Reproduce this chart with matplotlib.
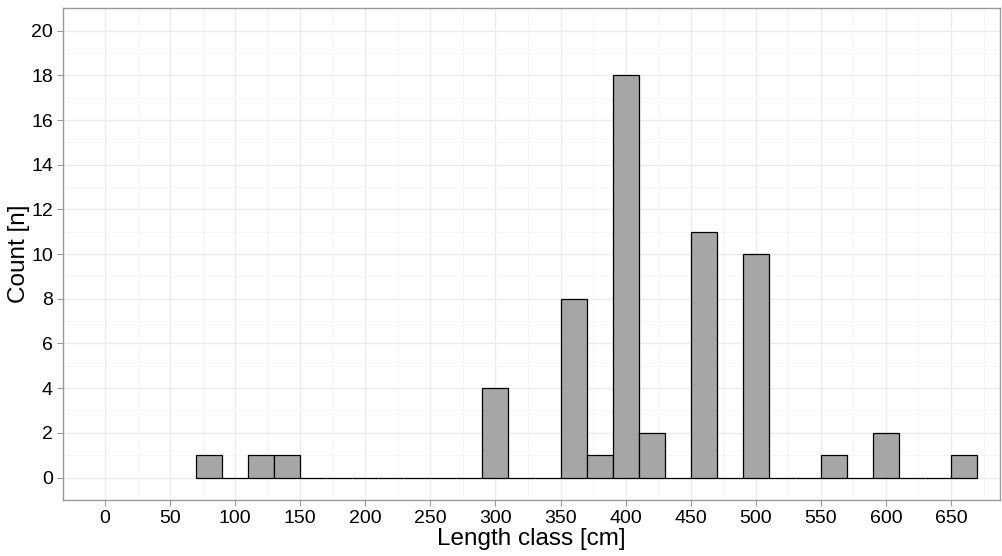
import numpy as np
import matplotlib.pyplot as plt

plt.rcParams['font.family'] = ['Liberation Sans', 'DejaVu Sans']

# histogram bins (width 20 cm), centres and counts
bin_centres = np.arange(80, 661, 20)
counts = [1, 0, 1, 1, 0, 0, 0, 0, 0, 0, 0, 4, 0, 0, 8, 1, 18, 2,
          0, 11, 0, 10, 0, 0, 1, 0, 2, 0, 0, 1]
x_ticks = np.arange(0, 651, 50)
y_ticks = np.arange(0, 21, 2)

fig = plt.figure(figsize=(10.03, 5.56), dpi=100)
ax = fig.add_axes([0.0625, 0.101, 0.935, 0.884])

ax.bar(bin_centres, counts, width=20, color='#A6A6A6', edgecolor='black',
       linewidth=0.9, zorder=3)

ax.set_xlim(-32.5, 688)
ax.set_ylim(-1, 21)
ax.set_xticks(x_ticks)
ax.set_yticks(y_ticks)
ax.set_xticks(np.arange(25, 700, 50), minor=True)
ax.set_yticks(np.arange(1, 21, 2), minor=True)

ax.grid(which='major', color='#EBEBEB', linewidth=1.0, zorder=0)
ax.grid(which='minor', color='#F5F5F5', linewidth=0.6, zorder=0)
ax.set_axisbelow(True)

for s in ax.spines.values():
    s.set_color('#999999')
    s.set_linewidth(1.0)

ax.tick_params(which='major', length=4, color='#999999', labelsize=14,
               labelcolor='black', pad=3)
ax.tick_params(which='minor', length=0)

ax.set_xlabel('Length class [cm]', fontsize=17.5, labelpad=1)
ax.set_ylabel('Count [n]', fontsize=17.5, labelpad=1)

fig.savefig('out.png', dpi=100)
